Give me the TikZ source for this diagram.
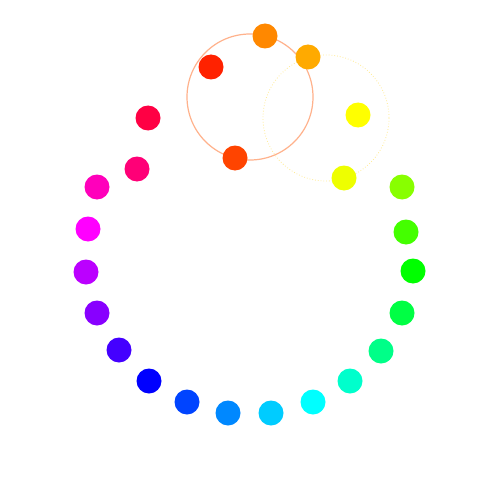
\documentclass[tikz,border=0pt]{standalone}
\begin{document}
\begin{tikzpicture}[x=1pt,y=-1pt,
  dot/.style={circle,inner sep=0pt,minimum size=25pt,draw=none},
  ringA/.style={draw={rgb,255:red,255;green,178;blue,140},line width=1.2pt},
  ringB/.style={draw={rgb,255:red,255;green,236;blue,150},line width=0.8pt,dotted}]
\useasboundingbox[fill=white] (0,0) rectangle (500,500);
% overlay circles
\draw[ringA] (250,97) circle (63);
\draw[ringB] (326,118) circle (63);
% dots
\definecolor{c01}{HTML}{88FF00}
\definecolor{c02}{HTML}{44FF00}
\definecolor{c03}{HTML}{00FF00}
\definecolor{c04}{HTML}{00FF44}
\definecolor{c05}{HTML}{00FF88}
\definecolor{c06}{HTML}{00FFCC}
\definecolor{c07}{HTML}{00FFFF}
\definecolor{c08}{HTML}{00CCFF}
\definecolor{c09}{HTML}{0088FF}
\definecolor{c10}{HTML}{0044FF}
\definecolor{c11}{HTML}{0000FF}
\definecolor{c12}{HTML}{4400FF}
\definecolor{c13}{HTML}{8800FF}
\definecolor{c14}{HTML}{BB00FF}
\definecolor{c15}{HTML}{FF00FF}
\definecolor{c16}{HTML}{FF00BB}
\definecolor{c17}{HTML}{FF0077}
\definecolor{c18}{HTML}{FF0044}
\definecolor{c19}{HTML}{FF2200}
\definecolor{c20}{HTML}{FF4400}
\definecolor{c21}{HTML}{FF8800}
\definecolor{c22}{HTML}{FFAA00}
\definecolor{c23}{HTML}{FFFF00}
\definecolor{c24}{HTML}{EEFF00}
\node[dot,fill=c01] (d01) at (402,187) {};
\node[dot,fill=c02] (d02) at (406,232) {};
\node[dot,fill=c03] (d03) at (413,271) {};
\node[dot,fill=c04] (d04) at (402,313) {};
\node[dot,fill=c05] (d05) at (381,351) {};
\node[dot,fill=c06] (d06) at (350,381) {};
\node[dot,fill=c07] (d07) at (313,402) {};
\node[dot,fill=c08] (d08) at (271,413) {};
\node[dot,fill=c09] (d09) at (228,413) {};
\node[dot,fill=c10] (d10) at (187,402) {};
\node[dot,fill=c11] (d11) at (149,381) {};
\node[dot,fill=c12] (d12) at (119,350) {};
\node[dot,fill=c13] (d13) at (97,313) {};
\node[dot,fill=c14] (d14) at (86,272) {};
\node[dot,fill=c15] (d15) at (88,229) {};
\node[dot,fill=c16] (d16) at (97,187) {};
\node[dot,fill=c17] (d17) at (137,169) {};
\node[dot,fill=c18] (d18) at (148,118) {};
\node[dot,fill=c19] (d19) at (211,67) {};
\node[dot,fill=c20] (d20) at (235,158) {};
\node[dot,fill=c21] (d21) at (265,36) {};
\node[dot,fill=c22] (d22) at (308,57) {};
\node[dot,fill=c23] (d23) at (358,115) {};
\node[dot,fill=c24] (d24) at (344,178) {};
\end{tikzpicture}
\end{document}
